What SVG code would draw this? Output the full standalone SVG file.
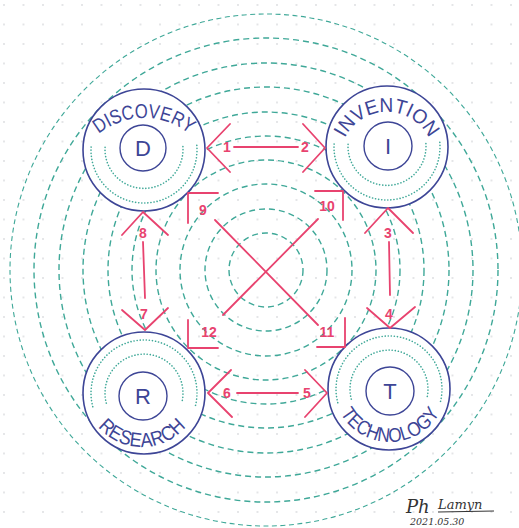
<svg xmlns="http://www.w3.org/2000/svg" width="519" height="528" viewBox="0 0 519 528">
<defs>
<pattern id="grid" x="3" y="4" width="19.5" height="19.5" patternUnits="userSpaceOnUse">
<circle cx="1" cy="1" r="0.9" fill="#d8dadd"/>
</pattern>
<style>
.ring{fill:none;stroke:#3fa898;stroke-width:1.4;stroke-dasharray:6 4}
.ring-o{fill:none;stroke:#3fa898;stroke-width:1.1;stroke-dasharray:5 3.5}
.node{fill:#fff;stroke:#3d4596;stroke-width:1.6}
.inner{fill:none;stroke:#3d4596;stroke-width:1.4}
.dots{fill:none;stroke:#3fa898;stroke-width:1.6;stroke-linecap:round;stroke-dasharray:0.1 3}
.letter{font-family:"Liberation Sans",Arial,sans-serif;font-size:22px;fill:#3d4596;text-anchor:middle}
.label{font-family:"Liberation Sans",Arial,sans-serif;font-size:20px;fill:#3d4596}
.arr{fill:none;stroke:#e8436f;stroke-width:1.8;stroke-linecap:round;stroke-linejoin:round}
.num{font-family:"Liberation Sans",Arial,sans-serif;font-size:14px;font-weight:bold;fill:#e8436f;text-anchor:middle}
.sig{font-family:"DejaVu Serif",serif;font-style:italic;fill:#333}
</style>
<path id="pD" d="M72,190 A72,72 0 0,1 216,190"/>
<path id="pI" d="M340,159 A47,47 0 0,1 434,159"/>
<path id="pR" d="M84,389 A58,58 0 0,0 200,389"/>
<path id="pT" d="M333,385 A57,57 0 0,0 447,385"/>
</defs>
<rect width="519" height="528" fill="#fff"/>
<rect width="519" height="528" fill="url(#grid)"/>
<g id="rings">
<circle class="ring" cx="266" cy="270" r="37"/>
<circle class="ring" cx="266" cy="270" r="61"/>
<circle class="ring" cx="266" cy="270" r="86"/>
<circle class="ring" cx="266" cy="270" r="110"/>
<circle class="ring" cx="266" cy="270" r="134"/>
<circle class="ring" cx="266" cy="270" r="158"/>
<circle class="ring" cx="266" cy="270" r="183"/>
<circle class="ring" cx="266" cy="270" r="207"/>
<circle class="ring" cx="266" cy="270" r="232"/>
<circle class="ring-o" cx="266" cy="270" r="256"/>
</g>
<g id="discovery">
<circle class="node" cx="144" cy="150" r="61"/>
<path class="dots" d="M196.8,145.4 A53,53 0 1,1 91.2,145.4"/>
<path class="dots" d="M182.9,146.6 A39,39 0 1,1 105.1,146.6"/>
<circle class="inner" cx="143" cy="148" r="23"/>
<text class="letter" x="143" y="156">D</text>
<text class="label" text-anchor="middle"><textPath href="#pD" startOffset="50%" textLength="98" lengthAdjust="spacingAndGlyphs">DISCOVERY</textPath></text>
</g>
<g id="invention">
<circle class="node" cx="387" cy="147" r="61"/>
<path class="dots" d="M439.8,142.4 A53,53 0 1,1 334.2,142.4"/>
<path class="dots" d="M425.9,143.6 A39,39 0 1,1 348.1,143.6"/>
<circle class="inner" cx="388" cy="146" r="24"/>
<text class="letter" x="388" y="154">I</text>
<text class="label" text-anchor="middle"><textPath href="#pI" startOffset="50%" textLength="104" lengthAdjust="spacingAndGlyphs">INVENTION</textPath></text>
</g>
<g id="research">
<circle class="node" cx="144" cy="393" r="61"/>
<path class="dots" d="M92.8,406.7 A53,53 0 1,1 195.2,406.7"/>
<path class="dots" d="M106.3,403.1 A39,39 0 1,1 181.7,403.1"/>
<circle class="inner" cx="143" cy="396" r="24"/>
<text class="letter" x="143" y="404">R</text>
<text class="label" text-anchor="middle"><textPath href="#pR" startOffset="50%" textLength="100" lengthAdjust="spacingAndGlyphs">RESEARCH</textPath></text>
</g>
<g id="technology">
<circle class="node" cx="389" cy="389" r="61"/>
<path class="dots" d="M337.8,402.7 A53,53 0 1,1 440.2,402.7"/>
<path class="dots" d="M351.3,399.1 A39,39 0 1,1 426.7,399.1"/>
<circle class="inner" cx="390" cy="391" r="24"/>
<text class="letter" x="390" y="399">T</text>
<text class="label" text-anchor="middle"><textPath href="#pT" startOffset="50%" textLength="120" lengthAdjust="spacingAndGlyphs">TECHNOLOGY</textPath></text>
</g>
<g id="connectors">
<path class="arr" d="M230,124 L207,148 L230,172 M234,147 L298,147 M303,124 L325,148 L303,172"/>
<path class="arr" d="M231,370 L208,393 L232,417 M237,393 L298,393 M305,370 L327,393 L305,417"/>
<path class="arr" d="M122,235 L143,212 L168,235 M143,242 L145,298 M122,310 L145,330 L168,308"/>
<path class="arr" d="M365,233 L388,208 L413,233 M389,242 L390,295 M367,308 L390,328 L415,307"/>
<path class="arr" d="M218,193 L188,193 L188,223 M215,220 L318,325 M317,347 L345,347 L345,318"/>
<path class="arr" d="M315,191 L343,191 L343,220 M318,219 L223,315 M218,348 L188,348 L188,320"/>
<text class="num" x="227" y="152">1</text>
<text class="num" x="305" y="152">2</text>
<text class="num" x="388" y="238">3</text>
<text class="num" x="389" y="319">4</text>
<text class="num" x="307" y="398">5</text>
<text class="num" x="227" y="398">6</text>
<text class="num" x="144" y="319">7</text>
<text class="num" x="143" y="238">8</text>
<text class="num" x="203" y="215">9</text>
<text class="num" x="327" y="211">10</text>
<text class="num" x="327" y="337">11</text>
<text class="num" x="209" y="337">12</text>
</g>
<g id="signature">
<text class="sig" x="406" y="513" font-size="18">Ph</text>
<text class="sig" x="438" y="509" font-size="13">Lamyn</text>
<path d="M438,512 L494,511" fill="none" stroke="#333" stroke-width="1"/>
<text class="sig" x="410" y="525" font-size="9.5">2021.05.30</text>
</g>
</svg>
